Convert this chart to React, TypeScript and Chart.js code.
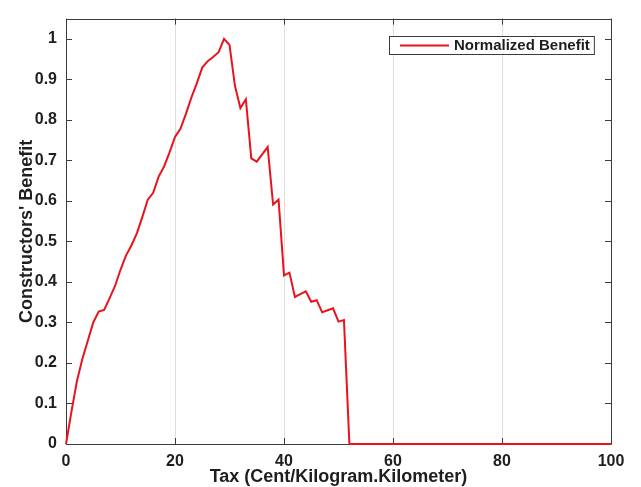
import React, { useEffect, useRef } from "react";
import { Chart, registerables } from "chart.js";

Chart.register(...registerables);

const taxValues = [
  0, 1, 2, 3, 4, 5, 6, 7, 8, 9, 10, 11, 12, 13, 14, 15, 16, 17, 18, 19, 20,
  21, 22, 23, 24, 25, 26, 27, 28, 29, 30, 31, 32, 33, 34, 35, 36, 37, 38, 39,
  40, 41, 42, 43, 44, 45, 46, 47, 48, 49, 50, 51, 52, 100,
];
const benefitValues = [
  0, 0.08, 0.155, 0.21, 0.255, 0.3, 0.327, 0.331, 0.36, 0.39, 0.43, 0.465,
  0.49, 0.52, 0.56, 0.603, 0.62, 0.66, 0.685, 0.72, 0.758, 0.778, 0.815, 0.855,
  0.89, 0.929, 0.945, 0.955, 0.967, 1.0, 0.985, 0.884, 0.829, 0.851, 0.705,
  0.697, 0.715, 0.733, 0.591, 0.603, 0.416, 0.423, 0.363, 0.37, 0.377, 0.351,
  0.355, 0.325, 0.33, 0.335, 0.302, 0.306, 0, 0,
];
const xTickValues = [0, 20, 40, 60, 80, 100];
const yTickValues = [0, 0.1, 0.2, 0.3, 0.4, 0.5, 0.6, 0.7, 0.8, 0.9, 1];
const seriesLabel = "Normalized Benefit";
const xTitle = "Tax (Cent/Kilogram.Kilometer)";
const yTitle = "Constructors' Benefit";

const FONT = "'Liberation Sans', Arial, Helvetica, sans-serif";
const AXIS_COLOR = "#3a3a3a";
const TEXT_COLOR = "#1e1e1e";
const RED = "#e8141c";

const framePlugin = {
  id: "frame",
  beforeDatasetsDraw(chart: any) {
    const { ctx, chartArea } = chart;
    const { left, right, top, bottom } = chartArea;
    const xs = chart.scales.x;
    const ys = chart.scales.y;
    const tl = 6;
    ctx.save();
    ctx.strokeStyle = AXIS_COLOR;
    ctx.lineWidth = 1;
    ctx.beginPath();
    ctx.rect(Math.round(left) + 0.5, Math.round(top) + 0.5, Math.round(right - left), Math.round(bottom - top));
    for (const v of xTickValues) {
      const px = Math.round(xs.getPixelForValue(v)) + 0.5;
      ctx.moveTo(px, bottom);
      ctx.lineTo(px, bottom - tl);
      ctx.moveTo(px, top);
      ctx.lineTo(px, top + tl);
    }
    for (const v of yTickValues) {
      const py = Math.round(ys.getPixelForValue(v)) + 0.5;
      ctx.moveTo(left, py);
      ctx.lineTo(left + tl, py);
      ctx.moveTo(right, py);
      ctx.lineTo(right - tl, py);
    }
    ctx.stroke();
    ctx.restore();
  },
  afterDatasetsDraw(chart: any) {
    const { ctx, chartArea } = chart;
    const ds = chart.data.datasets[0];
    ctx.save();
    ctx.font = `bold 15px ${FONT}`;
    const textW = ctx.measureText(ds.label).width;
    const padL = 11;
    const lineLen = 49;
    const gap = 5;
    const padR = 4;
    const h = 18;
    const w = padL + lineLen + gap + textW + padR;
    const x1 = Math.round(chartArea.right - 17 - w);
    const y1 = Math.round(chartArea.top + 17);
    ctx.fillStyle = "#ffffff";
    ctx.fillRect(x1, y1, w, h);
    ctx.strokeStyle = AXIS_COLOR;
    ctx.lineWidth = 1;
    ctx.strokeRect(x1 + 0.5, y1 + 0.5, w, h);
    ctx.strokeStyle = ds.borderColor;
    ctx.lineWidth = 2;
    ctx.beginPath();
    ctx.moveTo(x1 + padL, y1 + h / 2 + 0.5);
    ctx.lineTo(x1 + padL + lineLen, y1 + h / 2 + 0.5);
    ctx.stroke();
    ctx.fillStyle = TEXT_COLOR;
    ctx.textBaseline = "middle";
    ctx.textAlign = "left";
    ctx.fillText(ds.label, x1 + padL + lineLen + gap, y1 + h / 2 + 1);
    ctx.restore();
  },
};

export default function App() {
  const canvasRef = useRef<HTMLCanvasElement | null>(null);

  useEffect(() => {
    const canvas = canvasRef.current;
    if (!canvas) return;
    const points = taxValues.map((x, i) => ({ x, y: benefitValues[i] }));
    const chart = new Chart(canvas, {
      type: "line",
      data: {
        datasets: [
          {
            label: seriesLabel,
            data: points,
            borderColor: RED,
            backgroundColor: RED,
            borderWidth: 2,
            pointRadius: 0,
            tension: 0,
            fill: false,
            clip: false,
          },
        ],
      },
      options: {
        animation: false,
        responsive: false,
        devicePixelRatio: 1,
        layout: { padding: { left: 0, right: 30, top: 14, bottom: 0 } },
        plugins: {
          legend: { display: false },
          tooltip: { enabled: false },
        },
        scales: {
          x: {
            type: "linear",
            min: 0,
            max: 100,
            afterFit: (s: any) => {
              s.height = 43;
            },
            afterBuildTicks: (s: any) => {
              s.ticks = xTickValues.map((v) => ({ value: v }));
            },
            ticks: {
              padding: 8,
              maxRotation: 0,
              color: TEXT_COLOR,
              font: { family: FONT, size: 16, weight: "bold", lineHeight: 1.2 },
              callback: (v: any) => String(v),
            },
            grid: {
              display: true,
              drawTicks: false,
              lineWidth: 1,
              color: (c: any) =>
                c.tick && (c.tick.value === 0 || c.tick.value === 100)
                  ? "rgba(0,0,0,0)"
                  : "#dedede",
            },
            border: { display: false },
            title: {
              display: true,
              text: xTitle,
              color: TEXT_COLOR,
              font: { family: FONT, size: 18, weight: "bold", lineHeight: 1.2 },
              padding: { top: 0, bottom: -1 },
            },
          },
          y: {
            type: "linear",
            min: 0,
            max: 1.05,
            afterFit: (s: any) => {
              s.width = 66;
            },
            afterBuildTicks: (s: any) => {
              s.ticks = yTickValues.map((v) => ({ value: v }));
            },
            ticks: {
              padding: 9,
              color: TEXT_COLOR,
              font: { family: FONT, size: 16, weight: "bold", lineHeight: 1.2 },
              callback: (v: any) => String(Math.round(Number(v) * 10) / 10),
            },
            grid: { display: false, drawTicks: false },
            border: { display: false },
            title: {
              display: true,
              text: yTitle,
              color: TEXT_COLOR,
              font: { family: FONT, size: 18, weight: "bold", lineHeight: 1.2 },
              padding: { top: 16, bottom: 0 },
            },
          },
        },
      },
      plugins: [framePlugin],
    });
    return () => chart.destroy();
  }, []);

  return (
    <div style={{ position: "absolute", left: 0, top: 0, width: 641, height: 487, background: "#fff" }}>
      <canvas ref={canvasRef} width={641} height={487} style={{ display: "block" }} />
    </div>
  );
}
